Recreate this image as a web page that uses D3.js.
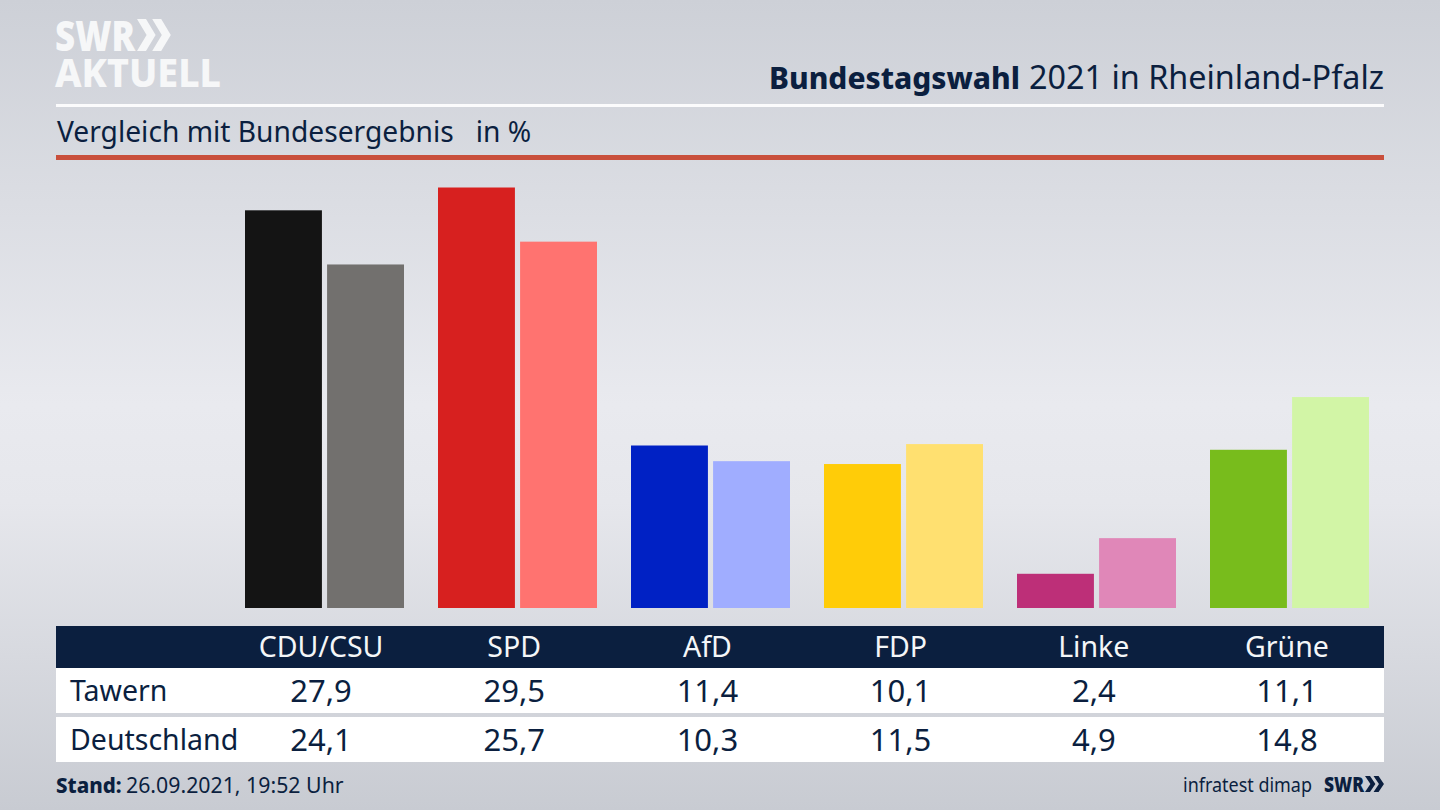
<!DOCTYPE html>
<html><head><meta charset="utf-8">
<script src="https://cdn.jsdelivr.net/npm/d3@7/dist/d3.min.js"></script>
<style>html,body{margin:0;padding:0;overflow:hidden;background:#d5d8de}svg{display:block}text{font-family:"Noto Sans",sans-serif}</style>
</head><body><svg id="c" width="1440" height="810"></svg>
<script>
const categories=["CDU/CSU","SPD","AfD","FDP","Linke","Grüne"];
const seriesNames=["Tawern","Deutschland"];
const tawern=[27.9,29.5,11.4,10.1,2.4,11.1];
const deutschland=[24.1,25.7,10.3,11.5,4.9,14.8];
const tawernColors=["#141414","#d7201f","#0021c4","#ffcc08","#bd2f78","#78bc1c"];
const deutschlandColors=["#72706e","#ff7370","#a0adff","#ffe070","#e087b8","#d2f5a6"];
const navy="#0b1f3f";
const svg=d3.select("#c");
const defs=svg.append("defs");
const g=defs.append("linearGradient").attr("id","bg").attr("x1",0).attr("x2",0).attr("y1",0).attr("y2",1);
[[0,"#cdd0d7"],[0.5,"#e9eaef"],[0.62,"#e6e7ec"],[1,"#c8cbd2"]].forEach(d=>g.append("stop").attr("offset",d[0]).attr("stop-color",d[1]));
svg.append("rect").attr("width",1440).attr("height",810).attr("fill","url(#bg)");

// header
function chev(sel,x,y,h,w,t,fill){
  [0,1].forEach(i=>{const o=x+i*(w*0.95);
    sel.append("path").attr("fill",fill).attr("d",`M${o},${y}L${o+t},${y}L${o+t+w*0.6},${y+h/2}L${o+t},${y+h}L${o},${y+h}L${o+w*0.6},${y+h/2}Z`);});
}
svg.append("text").attr("x",55).attr("y",51).attr("font-size",42).attr("font-weight",900).attr("fill","#f6f7f8").attr("textLength",80).attr("lengthAdjust","spacingAndGlyphs").text("SWR");
chev(svg,137,19,32,16,9,"#f6f7f8");
svg.append("text").attr("x",55).attr("y",87).attr("font-size",40).attr("font-weight",800).attr("fill","#f6f7f8").attr("textLength",166).attr("lengthAdjust","spacingAndGlyphs").text("AKTUELL");
svg.append("text").attr("x",769).attr("y",89).attr("font-size",30.5).attr("font-weight",800).attr("fill",navy).attr("textLength",251).attr("lengthAdjust","spacingAndGlyphs").text("Bundestagswahl");
svg.append("text").attr("x",1029).attr("y",89).attr("font-size",32).attr("fill",navy).attr("textLength",355).attr("lengthAdjust","spacingAndGlyphs").text("2021 in Rheinland-Pfalz");
svg.append("rect").attr("x",56).attr("y",104).attr("width",1328).attr("height",3).attr("fill","#fbfbfc");
svg.append("text").attr("x",57).attr("y",142).attr("font-size",28.2).attr("fill",navy).style("white-space","pre").text("Vergleich mit Bundesergebnis   in %");
svg.append("rect").attr("x",56).attr("y",155).attr("width",1328).attr("height",5).attr("fill","#c94f3c");

// bars
const x=d3.scaleBand().domain(categories).range([228,1386]).paddingInner(34/193).paddingOuter(17/193);
const xs=d3.scaleBand().domain(seriesNames).range([0,x.bandwidth()]).paddingInner(5/79.5).paddingOuter(0);
const y=d3.scaleLinear().domain([0,29.5]).range([608,187.5]);
const rows=[tawern,deutschland],cols=[tawernColors,deutschlandColors];
seriesNames.forEach((s,k)=>{
  svg.append("g").selectAll("rect").data(categories).join("rect")
    .attr("x",c=>x(c)+xs(s)).attr("width",xs.bandwidth())
    .attr("y",(c,i)=>y(rows[k][i])).attr("height",(c,i)=>y(0)-y(rows[k][i]))
    .attr("fill",(c,i)=>cols[k][i]);
});

// table
svg.append("rect").attr("x",56).attr("y",626).attr("width",1328).attr("height",42).attr("fill",navy);
svg.append("rect").attr("x",56).attr("y",668).attr("width",1328).attr("height",45).attr("fill","#fff");
svg.append("rect").attr("x",56).attr("y",717).attr("width",1328).attr("height",45).attr("fill","#fff");
const tx=d3.scalePoint().domain(categories).range([321,1287]);
svg.append("g").selectAll("text").data(categories).join("text")
  .attr("x",c=>tx(c)).attr("y",657).attr("text-anchor","middle").attr("font-size",28.5).attr("fill","#f4f6f8").text(c=>c);
const fmt=v=>v.toFixed(1).replace(".",",");
const rowY=[701,750];
seriesNames.forEach((s,k)=>{
  svg.append("text").attr("x",70).attr("y",rowY[k]).attr("font-size",28.5).attr("fill",navy).text(s);
  svg.append("g").selectAll("text").data(categories).join("text")
    .attr("x",c=>tx(c)).attr("y",rowY[k]+1).attr("text-anchor","middle").attr("font-size",31).attr("fill",navy)
    .text((c,i)=>fmt(rows[k][i]));
});

// footer
svg.append("text").attr("x",56).attr("y",793).attr("font-size",20.5).attr("font-weight",800).attr("fill",navy).text("Stand:");
svg.append("text").attr("x",126).attr("y",793).attr("font-size",21.3).attr("fill",navy).text("26.09.2021, 19:52 Uhr");
svg.append("text").attr("x",1183).attr("y",792).attr("font-size",20).attr("fill",navy).attr("textLength",129).attr("lengthAdjust","spacingAndGlyphs").text("infratest dimap");
svg.append("text").attr("x",1324).attr("y",792).attr("font-size",21).attr("font-weight",900).attr("fill",navy).attr("textLength",40).attr("lengthAdjust","spacingAndGlyphs").text("SWR");
chev(svg,1365,776,16,9,5,navy);
</script></body></html>
